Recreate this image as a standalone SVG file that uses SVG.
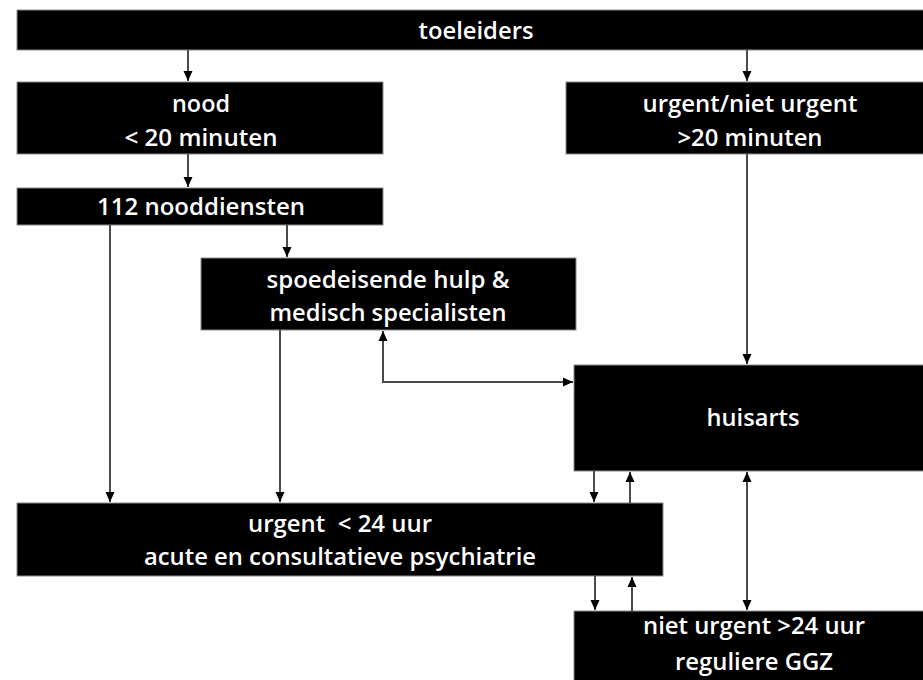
<svg xmlns="http://www.w3.org/2000/svg" width="923" height="680" viewBox="0 0 923 680">
<defs>
<marker id="ah" viewBox="0 0 10 10" refX="10" refY="5" markerWidth="10" markerHeight="10" markerUnits="userSpaceOnUse" orient="auto-start-reverse">
<path d="M0 0.5 L10 5 L0 9.5 Z" fill="#000"/>
</marker>
<style>
.box{fill:#000;stroke:#8a8a8a;stroke-width:1}
.t{fill:#fff;font-family:"Open Sans","Liberation Sans",sans-serif;font-weight:600;font-size:23px;text-anchor:middle}
.c{fill:none;stroke:#4a4a4a;stroke-width:2}
</style>
</defs>
<rect width="923" height="680" fill="#fff"/>
<g id="toeleiders"><rect class="box" x="17" y="10" width="913" height="40"/><text class="t" x="476" y="39" textLength="115" lengthAdjust="spacingAndGlyphs">toeleiders</text></g>
<g id="nood"><rect class="box" x="17" y="82" width="366" height="72"/><text class="t" x="201" y="112" textLength="58" lengthAdjust="spacingAndGlyphs">nood</text><text class="t" x="201" y="146" textLength="153" lengthAdjust="spacingAndGlyphs">&lt; 20 minuten</text></g>
<g id="urgent-niet-urgent"><rect class="box" x="566" y="82" width="364" height="72"/><text class="t" x="750" y="112" textLength="215" lengthAdjust="spacingAndGlyphs">urgent/niet urgent</text><text class="t" x="750" y="146" textLength="145" lengthAdjust="spacingAndGlyphs">&gt;20 minuten</text></g>
<g id="nooddiensten"><rect class="box" x="17" y="188" width="366" height="37"/><text class="t" x="201" y="215" textLength="208" lengthAdjust="spacingAndGlyphs">112 nooddiensten</text></g>
<g id="spoedeisende-hulp"><rect class="box" x="201" y="258" width="375" height="72"/><text class="t" x="388" y="288" textLength="243" lengthAdjust="spacingAndGlyphs">spoedeisende hulp &amp;</text><text class="t" x="388" y="321" textLength="237" lengthAdjust="spacingAndGlyphs">medisch specialisten</text></g>
<g id="huisarts"><rect class="box" x="574" y="365" width="356" height="106"/><text class="t" x="753" y="426" textLength="93" lengthAdjust="spacingAndGlyphs">huisarts</text></g>
<g id="urgent-24"><rect class="box" x="17" y="503" width="646" height="73"/><text class="t" x="340" y="532" textLength="184" lengthAdjust="spacingAndGlyphs" xml:space="preserve">urgent  &lt; 24 uur</text><text class="t" x="340" y="565" textLength="392" lengthAdjust="spacingAndGlyphs">acute en consultatieve psychiatrie</text></g>
<g id="reguliere-ggz"><rect class="box" x="574" y="611" width="356" height="80"/><text class="t" x="754" y="634" textLength="222" lengthAdjust="spacingAndGlyphs">niet urgent &gt;24 uur</text><text class="t" x="754" y="670" textLength="158" lengthAdjust="spacingAndGlyphs">reguliere GGZ</text></g>
<g id="connectors">
<path class="c" d="M188 50 V81" marker-end="url(#ah)"/>
<path class="c" d="M747 50 V81" marker-end="url(#ah)"/>
<path class="c" d="M188 154 V187" marker-end="url(#ah)"/>
<path class="c" d="M110 225 V502" marker-end="url(#ah)"/>
<path class="c" d="M287 225 V257" marker-end="url(#ah)"/>
<path class="c" d="M280 330 V502" marker-end="url(#ah)"/>
<path class="c" d="M383 331 V382 H573" marker-start="url(#ah)" marker-end="url(#ah)"/>
<path class="c" d="M747 154 V364" marker-end="url(#ah)"/>
<path class="c" d="M594 471 V502" marker-end="url(#ah)"/>
<path class="c" d="M630 503 V472" marker-end="url(#ah)"/>
<path class="c" d="M595 576 V610" marker-end="url(#ah)"/>
<path class="c" d="M632 611 V577" marker-end="url(#ah)"/>
<path class="c" d="M747 472 V610" marker-start="url(#ah)" marker-end="url(#ah)"/>
</g>
</svg>
